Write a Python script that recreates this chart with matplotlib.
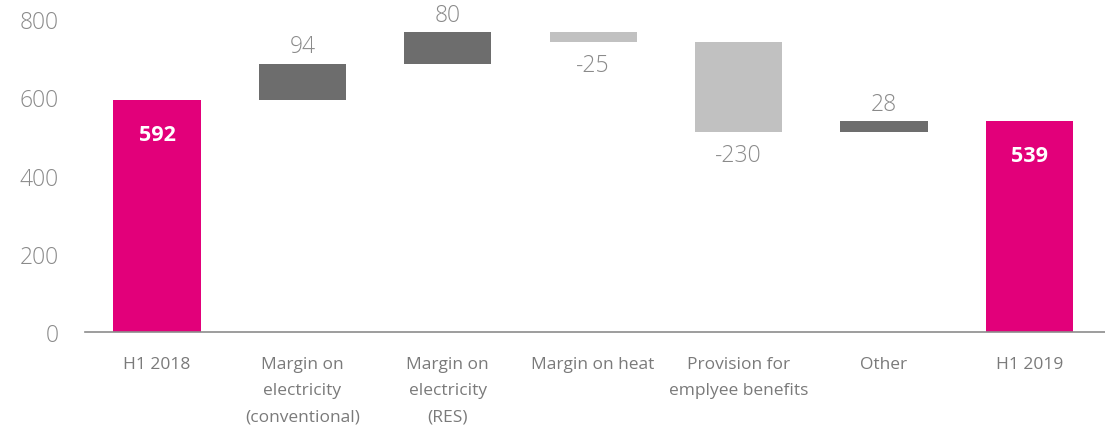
import matplotlib
matplotlib.use('Agg')
import matplotlib.pyplot as plt
import numpy as np

plt.rcParams['font.family'] = ['Open Sans', 'DejaVu Sans']

categories = ['H1 2018', 'Margin on\nelectricity\n(conventional)', 'Margin on\nelectricity\n(RES)',
              'Margin on heat', 'Provision for\nemplyee benefits', 'Other', 'H1 2019']
changes = [592, 94, 80, -25, -230, 28, 539]
is_total = [True, False, False, False, False, False, True]

MAGENTA = '#E2007A'
DARK = '#6D6D6D'
LIGHT = '#C1C1C1'
TEXT = '#8A8A8A'

fig = plt.figure(figsize=(11.05, 4.31), dpi=100)
ax = fig.add_axes([0.0769, 0.2274, 0.9231, 0.7260])

x = np.arange(len(categories))
running = 0
for i, (v, tot) in enumerate(zip(changes, is_total)):
    if tot:
        ax.bar(i, v, width=0.6, color=MAGENTA)
        ax.text(i, v - 88, str(v), ha='center', va='center', color='white',
                fontsize=15.5, fontweight='bold')
        running = v
    else:
        bottom = running if v > 0 else running + v
        ax.bar(i, abs(v), bottom=bottom, width=0.6, color=DARK if v > 0 else LIGHT)
        if v > 0:
            ax.text(i, running + v + 44, str(v), ha='center', va='center',
                    color=TEXT, fontsize=16.5, fontweight='light')
        else:
            ax.text(i, running + v - 58, str(v), ha='center', va='center',
                    color=TEXT, fontsize=16.5, fontweight='light')
        running += v

ax.set_xlim(-0.495, 6.52)
ax.set_ylim(0, 800)
ax.set_yticks([0, 200, 400, 600, 800])
ax.set_xticks(x)
ax.set_xticklabels(categories, linespacing=1.85)
ax.tick_params(axis='y', length=0, labelsize=16.5, labelcolor=TEXT, pad=19)
ax.tick_params(axis='x', length=0, labelsize=12.5, labelcolor='#7A7A7A', pad=17)
for lbl in ax.get_yticklabels():
    lbl.set_fontweight('light')

for s in ['top', 'right', 'left']:
    ax.spines[s].set_visible(False)
ax.spines['bottom'].set_color('#8C8C8C')
ax.spines['bottom'].set_linewidth(1.2)

fig.savefig('out.png', dpi=100)
